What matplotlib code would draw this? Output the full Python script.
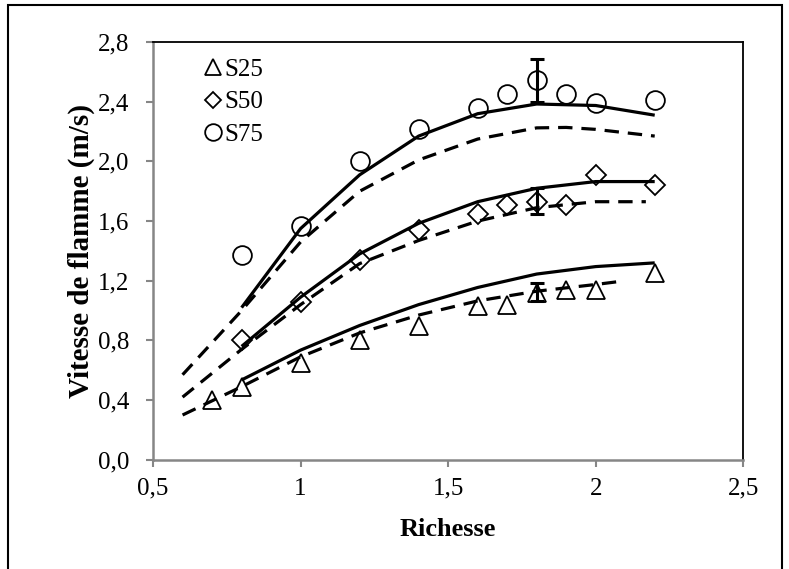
import numpy as np
import matplotlib
matplotlib.use('Agg')
import matplotlib.pyplot as plt
from matplotlib.patches import Rectangle

plt.rcParams['font.family'] = ['Liberation Serif', 'DejaVu Serif']

# Experimental points
x_s25 = [0.7, 0.8, 1.0, 1.2, 1.4, 1.6, 1.7, 1.8, 1.9, 2.0, 2.2]
y_s25 = [0.40, 0.49, 0.65, 0.80, 0.90, 1.03, 1.04, 1.12, 1.14, 1.14, 1.25]
x_s50 = [0.8, 1.0, 1.2, 1.4, 1.6, 1.7, 1.8, 1.9, 2.0, 2.2]
y_s50 = [0.80, 1.06, 1.34, 1.54, 1.65, 1.71, 1.73, 1.71, 1.91, 1.845]
x_s75 = [0.8, 1.0, 1.2, 1.4, 1.6, 1.7, 1.8, 1.9, 2.0, 2.2]
y_s75 = [1.375, 1.57, 2.005, 2.22, 2.36, 2.455, 2.545, 2.455, 2.39, 2.415]

# Error bars (at richesse 1.8)
err_x = 1.8
err_y = [1.125, 1.735, 2.543]
err_val = [0.06, 0.085, 0.143]

# Model curves (solid)
xs_fit = [0.8, 1.0, 1.2, 1.4, 1.6, 1.8, 2.0, 2.2]
ys25_fit = [0.535, 0.735, 0.90, 1.04, 1.155, 1.245, 1.295, 1.32]
ys50_fit = [0.76, 1.09, 1.38, 1.585, 1.73, 1.82, 1.865, 1.865]
ys75_fit = [1.02, 1.55, 1.91, 2.17, 2.32, 2.385, 2.375, 2.31]

# Model curves (dashed)
xd25 = [0.6, 0.8, 1.0, 1.2, 1.4, 1.6, 1.8, 2.0, 2.08]
yd25 = [0.30, 0.49, 0.69, 0.85, 0.97, 1.065, 1.13, 1.175, 1.195]
xd50 = [0.6, 0.8, 1.0, 1.2, 1.4, 1.6, 1.8, 2.0, 2.17]
yd50 = [0.42, 0.74, 1.04, 1.315, 1.47, 1.60, 1.69, 1.73, 1.73]
xd75 = [0.6, 0.8, 1.0, 1.2, 1.4, 1.6, 1.8, 1.9, 2.0, 2.2]
yd75 = [0.57, 1.0, 1.46, 1.80, 2.01, 2.15, 2.225, 2.228, 2.215, 2.17]

fig = plt.figure(figsize=(7.89, 5.69), dpi=100)
ax = fig.add_axes([0.194, 0.192, 0.748, 0.734])

# lines
for xx, yy in [(xs_fit, ys25_fit), (xs_fit, ys50_fit), (xs_fit, ys75_fit)]:
    ax.plot(xx, yy, color='black', lw=2.3, solid_capstyle='butt', zorder=2)
for xx, yy in [(xd25, yd25), (xd50, yd50), (xd75, yd75)]:
    ax.plot(xx, yy, color='black', lw=2.3, linestyle=(0, (4.5, 2.8)), dash_capstyle='butt', zorder=2)

# error bars
ax.errorbar([err_x] * 3, err_y, yerr=err_val, fmt='none', ecolor='black',
            elinewidth=2.2, capsize=5, capthick=2.2, zorder=3)

mk = dict(linestyle='none', markerfacecolor='none', markeredgecolor='black',
          markeredgewidth=1.3, zorder=4)
ax.plot(x_s25, y_s25, marker='^', markersize=13, label='S25', **mk)
ax.plot(x_s50, y_s50, marker='D', markersize=10, label='S50', **mk)
ax.plot(x_s75, y_s75, marker='o', markersize=13.5, label='S75', **mk)

ax.set_xlim(0.5, 2.5)
ax.set_ylim(0, 2.8)
xt = [0.5, 1.0, 1.5, 2.0, 2.5]
yt = [0.0, 0.4, 0.8, 1.2, 1.6, 2.0, 2.4, 2.8]
ax.set_xticks(xt)
ax.set_xticklabels(['0,5', '1', '1,5', '2', '2,5'])
ax.set_yticks(yt)
ax.set_yticklabels([f'{v:.1f}'.replace('.', ',') for v in yt])
ax.tick_params(direction='out', length=5, width=1.5, color='#868686',
               labelsize=18)
ax.tick_params(axis='x', pad=8)
ax.tick_params(axis='y', pad=12)

for s in ['left', 'bottom']:
    ax.spines[s].set_color('#868686')
    ax.spines[s].set_linewidth(1.8)
for s in ['top', 'right']:
    ax.spines[s].set_color('black')
    ax.spines[s].set_linewidth(1.3)

ax.set_xlabel('Richesse', fontsize=19, fontweight='bold', labelpad=13)
ax.set_ylabel('Vitesse de flamme (m/s)', fontsize=21, fontweight='bold', labelpad=2)

leg = ax.legend(loc='upper left', bbox_to_anchor=(0.062, 1.0), frameon=False,
                fontsize=18, handlelength=0.6, handletextpad=0.15,
                labelspacing=0.4, borderaxespad=0.25)
for h, s in zip(leg.legend_handles, [12, 8.5, 12]):
    h.set_markersize(s)

fig.add_artist(Rectangle((0.0101, -0.01), 0.981, 1.001, transform=fig.transFigure,
                         fill=False, edgecolor='black', lw=1.5))

fig.savefig('out.png', dpi=100)
